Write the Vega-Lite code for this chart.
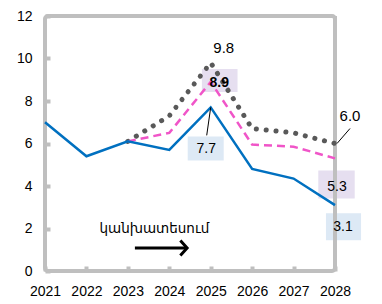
{
  "$schema": "https://vega.github.io/schema/vega-lite/v6.json",
  "width": 290,
  "height": 255,
  "autosize": "none",
  "padding": {"left": 45, "top": 16, "right": 47, "bottom": 33},
  "background": "white",
  "config": {
    "view": {"stroke": "#BFBFBF", "strokeWidth": 4, "cornerRadius": 3},
    "font": "Liberation Sans",
    "axis": {"grid": false, "domain": false, "labelFont": "Liberation Sans", "labelFontSize": 14, "labelColor": "#000000", "tickColor": "#BFBFBF", "tickWidth": 4, "tickSize": -5, "title": null}
  },
  "datasets": {
    "lines": [
      {"year": 2021, "value": 7.0, "series": "blue"},
      {"year": 2022, "value": 5.4, "series": "blue"},
      {"year": 2023, "value": 6.1, "series": "blue"},
      {"year": 2024, "value": 5.7, "series": "blue"},
      {"year": 2025, "value": 7.7, "series": "blue"},
      {"year": 2026, "value": 4.8, "series": "blue"},
      {"year": 2027, "value": 4.35, "series": "blue"},
      {"year": 2028, "value": 3.1, "series": "blue"},
      {"year": 2023, "value": 6.1, "series": "pink"},
      {"year": 2024, "value": 6.5, "series": "pink"},
      {"year": 2025, "value": 8.9, "series": "pink"},
      {"year": 2026, "value": 5.95, "series": "pink"},
      {"year": 2027, "value": 5.85, "series": "pink"},
      {"year": 2028, "value": 5.3, "series": "pink"},
      {"year": 2023, "value": 6.1, "series": "gray"},
      {"year": 2024, "value": 7.3, "series": "gray"},
      {"year": 2025, "value": 9.8, "series": "gray"},
      {"year": 2026, "value": 6.7, "series": "gray"},
      {"year": 2027, "value": 6.5, "series": "gray"},
      {"year": 2028, "value": 6.0, "series": "gray"}
    ],
    "note": [{"note": "կանխատեսում"}]
  },
  "layer": [
    {
      "data": {"name": "lines"},
      "encoding": {
        "x": {"field": "year", "type": "quantitative", "scale": {"domain": [2021, 2028], "nice": false, "zero": false},
              "axis": {"values": [2021, 2022, 2023, 2024, 2025, 2026, 2027, 2028], "format": "d", "labelPadding": 18, "labelFlush": false}},
        "y": {"field": "value", "type": "quantitative", "scale": {"domain": [0, 12], "nice": false},
              "axis": {"values": [0, 2, 4, 6, 8, 10, 12], "labelPadding": 18}}
      },
      "layer": [
        {"transform": [{"filter": "datum.series == 'pink' && datum.year == 2025"}],
         "mark": {"type": "point", "shape": "M-1.55,-1L1.55,-1L1.55,1L-1.55,1Z", "size": 529, "filled": true, "color": "#E6DFF0", "opacity": 1, "xOffset": 9, "yOffset": -1.5}},
        {"transform": [{"filter": "datum.series == 'pink' && datum.year == 2028"}],
         "mark": {"type": "point", "shape": "M-1.3,-1L1.3,-1L1.3,1L-1.3,1Z", "size": 784, "filled": true, "color": "#E6DFF0", "opacity": 1, "xOffset": 1.5, "yOffset": 26}},
        {"transform": [{"filter": "datum.series == 'blue' && datum.year == 2025"}],
         "mark": {"type": "point", "shape": "M-1.5,-1L1.5,-1L1.5,1L-1.5,1Z", "size": 576, "filled": true, "color": "#DDE9F5", "opacity": 1, "xOffset": -5, "yOffset": 41}},
        {"transform": [{"filter": "datum.series == 'blue' && datum.year == 2028"}],
         "mark": {"type": "point", "shape": "M-1.3,-1L1.3,-1L1.3,1L-1.3,1Z", "size": 729, "filled": true, "color": "#DDE9F5", "opacity": 1, "xOffset": 8.5, "yOffset": 21.5}},
        {"transform": [{"filter": "datum.series == 'blue' && datum.year == 2028"}],
         "mark": {"type": "rule", "color": "#BFBFBF", "strokeWidth": 4},
         "encoding": {"x": {"datum": 2028, "type": "quantitative"}, "y": {"datum": 0, "type": "quantitative"}, "y2": {"datum": 12}}},
        {"transform": [{"filter": "datum.series == 'gray'"}],
         "mark": {"type": "line", "color": "#595959", "strokeWidth": 5, "strokeDash": [0.1, 9.8], "strokeCap": "round"}},
        {"transform": [{"filter": "datum.series == 'pink'"}],
         "mark": {"type": "line", "color": "#F055C8", "strokeWidth": 2.5, "strokeDash": [8, 5]}},
        {"transform": [{"filter": "datum.series == 'blue'"}],
         "mark": {"type": "line", "color": "#0070C0", "strokeWidth": 2.5}},
        {"transform": [{"filter": "datum.series == 'blue' && datum.year == 2025"}],
         "mark": {"type": "rule", "color": "#000000", "strokeWidth": 1, "x2Offset": -4, "y2Offset": 28},
         "encoding": {"x2": {"field": "year"}, "y2": {"field": "value"}}},
        {"transform": [{"filter": "datum.series == 'gray' && datum.year == 2028"}],
         "mark": {"type": "rule", "color": "#000000", "strokeWidth": 1, "xOffset": 2, "x2Offset": 15, "y2Offset": -15},
         "encoding": {"x2": {"field": "year"}, "y2": {"field": "value"}}},
        {"transform": [{"filter": "datum.series == 'gray' && datum.year == 2025"}],
         "mark": {"type": "text", "fontSize": 15, "color": "#000000", "dx": 13, "dy": -15},
         "encoding": {"text": {"field": "value", "format": ".1f"}}},
        {"transform": [{"filter": "datum.series == 'gray' && datum.year == 2028"}],
         "mark": {"type": "text", "fontSize": 15, "color": "#000000", "dx": 15, "dy": -28},
         "encoding": {"text": {"field": "value", "format": ".1f"}}},
        {"transform": [{"filter": "datum.series == 'pink' && datum.year == 2025"}],
         "mark": {"type": "text", "fontSize": 14, "fontWeight": "bold", "color": "#000000", "dx": 8.5, "dy": 1},
         "encoding": {"text": {"field": "value", "format": ".1f"}}},
        {"transform": [{"filter": "datum.series == 'pink' && datum.year == 2028"}],
         "mark": {"type": "text", "fontSize": 14, "color": "#000000", "dx": 2, "dy": 29},
         "encoding": {"text": {"field": "value", "format": ".1f"}}},
        {"transform": [{"filter": "datum.series == 'blue' && datum.year == 2025"}],
         "mark": {"type": "text", "fontSize": 14, "color": "#000000", "dx": -4.5, "dy": 42},
         "encoding": {"text": {"field": "value", "format": ".1f"}}},
        {"transform": [{"filter": "datum.series == 'blue' && datum.year == 2028"}],
         "mark": {"type": "text", "fontSize": 14, "color": "#000000", "dx": 8, "dy": 22},
         "encoding": {"text": {"field": "value", "format": ".1f"}}}
      ]
    },
    {
      "data": {"name": "note"},
      "mark": {"type": "text", "font": "DejaVu Sans", "fontSize": 13.5, "color": "#000000"},
      "encoding": {"x": {"datum": 2023.64, "type": "quantitative"}, "y": {"datum": 2.0, "type": "quantitative"}, "text": {"field": "note"}}
    },
    {
      "data": {"name": "note"},
      "mark": {"type": "rule", "color": "#000000", "strokeWidth": 3},
      "encoding": {"x": {"datum": 2023.17, "type": "quantitative"}, "x2": {"datum": 2024.4}, "y": {"datum": 1.08, "type": "quantitative"}}
    },
    {
      "data": {"name": "note"},
      "mark": {"type": "point", "shape": "M-0.9,-1L0,0L-0.9,1", "size": 225, "filled": false, "color": "#000000", "strokeWidth": 3, "opacity": 1},
      "encoding": {"x": {"datum": 2024.43, "type": "quantitative"}, "y": {"datum": 1.08, "type": "quantitative"}}
    }
  ]
}
